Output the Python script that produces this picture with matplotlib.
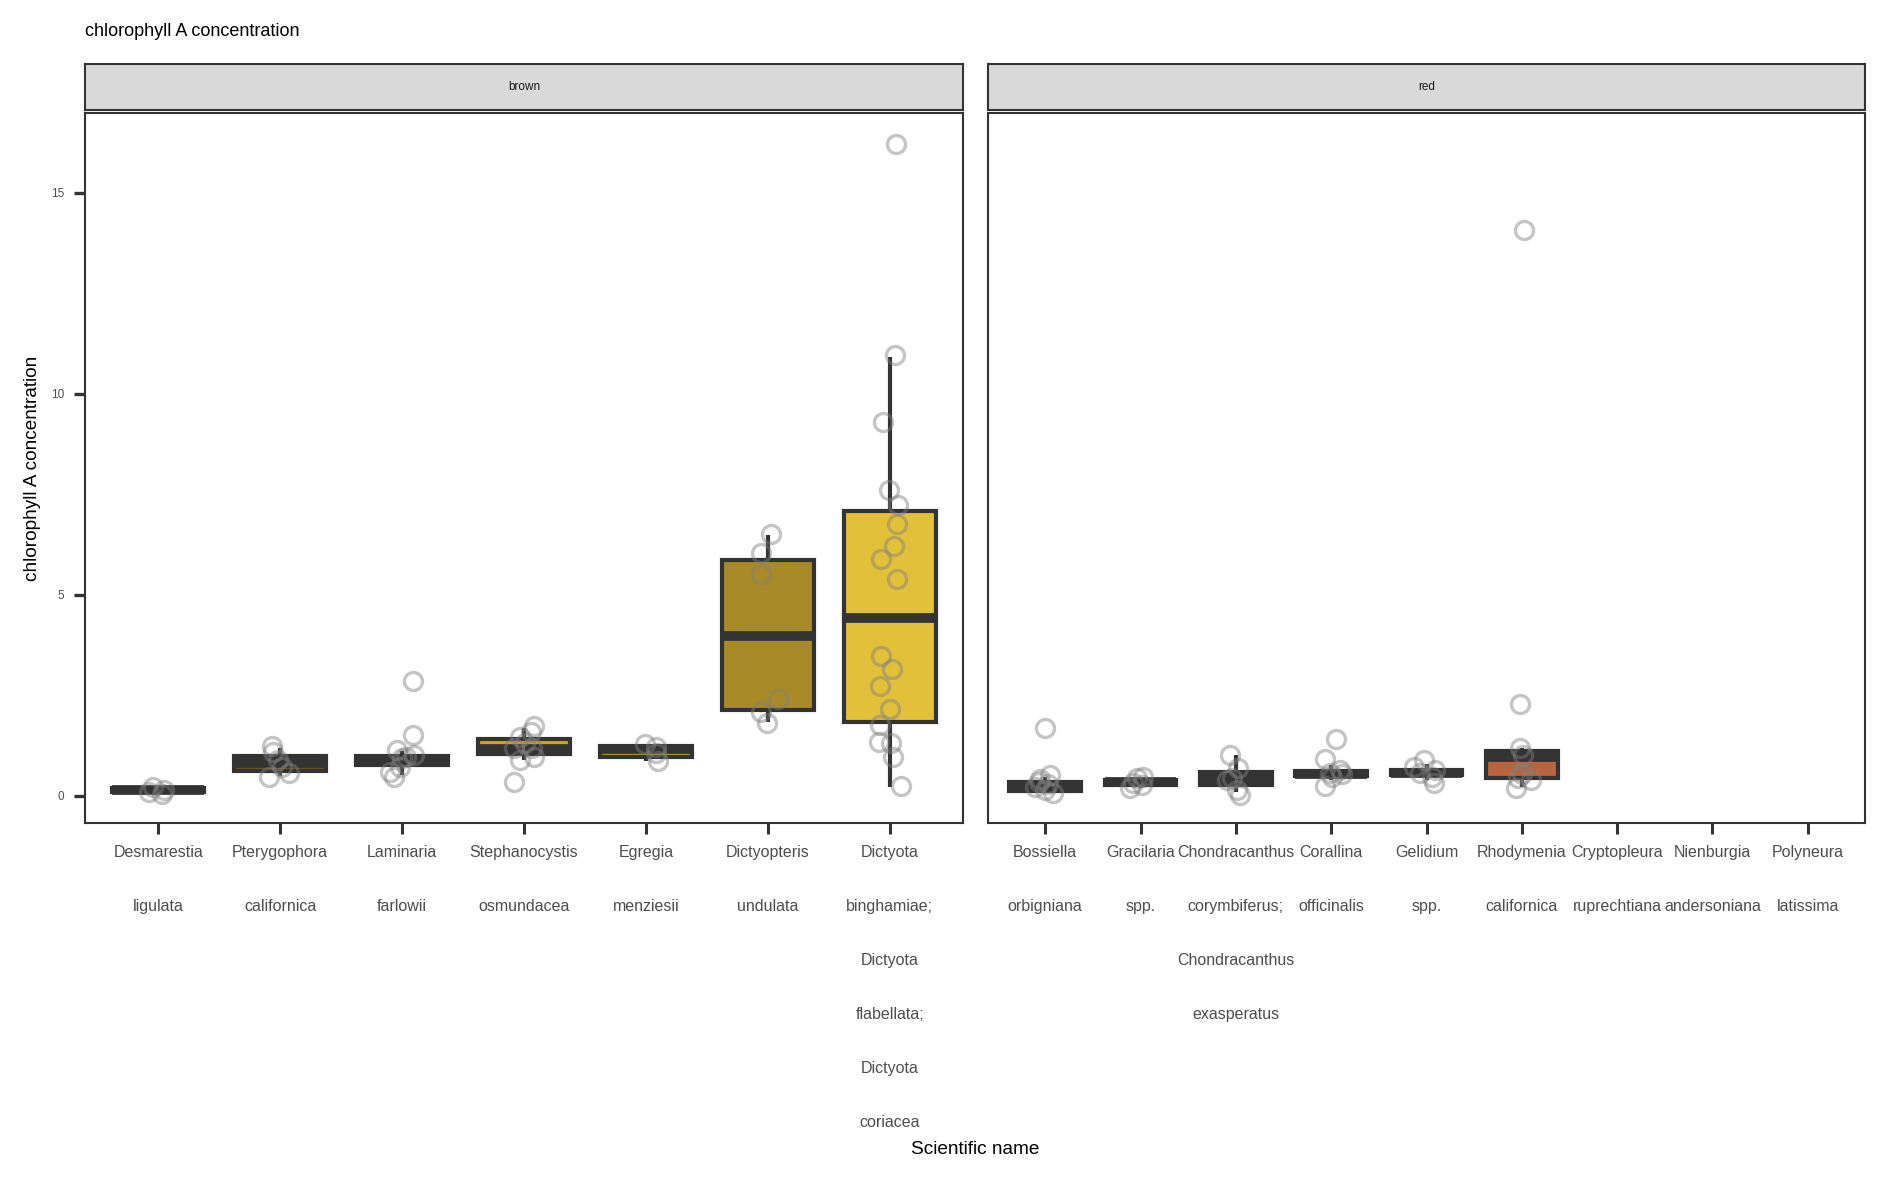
import matplotlib.pyplot as plt
import numpy as np

plt.rcParams['font.family'] = ['Liberation Sans', 'DejaVu Sans']

# ---- data ----
brown_labels = ['Desmarestia\nligulata', 'Pterygophora\ncalifornica', 'Laminaria\nfarlowii',
                'Stephanocystis\nosmundacea', 'Egregia\nmenziesii', 'Dictyopteris\nundulata',
                'Dictyota\nbinghamiae;\nDictyota\nflabellata;\nDictyota\ncoriacea']
red_labels = ['Bossiella\norbigniana', 'Gracilaria\nspp.',
              'Chondracanthus\ncorymbiferus;\nChondracanthus\nexasperatus',
              'Corallina\nofficinalis', 'Gelidium\nspp.', 'Rhodymenia\ncalifornica',
              'Cryptopleura\nruprechtiana', 'Nienburgia\nandersoniana', 'Polyneura\nlatissima']

# box stats: whisker low, q1, median, q3, whisker high (None = no data)
brown_whislo = [0.04, 0.49, 0.51, 0.89, 0.85, 1.82, 0.22]
brown_q1 = [0.09, 0.62, 0.77, 1.04, 0.95, 2.13, 1.84]
brown_med = [0.14, 0.80, 0.88, 1.17, 1.16, 3.96, 4.42]
brown_q3 = [0.19, 0.98, 0.99, 1.40, 1.24, 5.86, 7.09]
brown_whishi = [0.22, 1.19, 1.12, 1.69, 1.29, 6.49, 10.92]

red_whislo = [0.06, 0.18, 0.10, 0.39, 0.39, 0.22, None, None, None]
red_q1 = [0.12, 0.27, 0.27, 0.49, 0.51, 0.44, None, None, None]
red_med = [0.25, 0.33, 0.42, 0.55, 0.57, 0.95, None, None, None]
red_q3 = [0.34, 0.38, 0.59, 0.61, 0.63, 1.10, None, None, None]
red_whishi = [0.46, 0.47, 1.00, 0.76, 0.79, 1.18, None, None, None]

brown_fill = ['#3A3528', '#6E5516', '#3A3528', '#D0A52A', '#B8961E', '#A88A28', '#E3C03A']
red_fill = ['#333333', '#333333', '#333333', '#333333', '#333333', '#B8643E',
            '#333333', '#333333', '#333333']

# individual observations and their jitter offsets
brown_points = [
    [0.22, 0.14, 0.04, 0.10],
    [1.24, 1.09, 0.89, 0.47, 0.56, 0.72],
    [2.84, 1.51, 1.14, 1.01, 0.93, 0.60, 0.47, 0.72, 0.97],
    [1.73, 1.59, 1.47, 1.18, 1.18, 0.89, 0.97, 0.35, 1.30],
    [1.29, 1.22, 0.85, 1.06],
    [6.50, 6.03, 5.51, 2.41, 2.07, 1.80],
    [16.2, 10.95, 9.3, 7.60, 7.23, 6.75, 6.21, 5.89, 5.39, 3.47, 3.15, 2.73, 2.16,
     1.76, 1.34, 1.31, 0.96, 0.24],
]
brown_jitter = [
    [-0.04, 0.05, 0.035, -0.075],
    [-0.07, -0.055, -0.015, -0.095, 0.07, 0.015],
    [0.09, 0.09, -0.04, 0.095, 0.0, -0.095, -0.07, -0.015, 0.03],
    [0.08, 0.055, -0.03, -0.085, 0.065, -0.03, 0.08, -0.085, 0.01],
    [-0.01, 0.085, 0.1, 0.085],
    [0.025, -0.06, -0.06, 0.085, -0.06, -0.01],
    [0.05, 0.045, -0.055, -0.01, 0.07, 0.055, 0.035, -0.075, 0.06, -0.075, 0.015,
     -0.08, 0.0, -0.08, -0.09, 0.01, 0.03, 0.09],
]
red_points = [
    [1.68, 0.51, 0.35, 0.06, 0.14, 0.22, 0.30, 0.42],
    [0.18, 0.43, 0.47, 0.31, 0.26],
    [1.01, 0.68, 0.14, 0.02, 0.45, 0.39],
    [1.40, 0.91, 0.24, 0.65, 0.47, 0.57, 0.53],
    [0.89, 0.72, 0.65, 0.47, 0.31, 0.57],
    [14.07, 2.28, 1.18, 1.01, 0.55, 0.39, 0.18, 0.45],
    [], [], [],
]
red_jitter = [
    [0.0, 0.05, -0.07, 0.085, 0.0, -0.105, 0.03, -0.055],
    [-0.11, -0.04, 0.03, -0.075, 0.015],
    [-0.06, 0.025, 0.01, 0.045, -0.04, -0.095],
    [0.05, -0.07, -0.07, 0.095, 0.01, -0.01, 0.115],
    [-0.025, -0.13, 0.09, 0.055, 0.075, -0.065],
    [0.025, -0.02, -0.02, 0.015, 0.0, 0.1, -0.06, -0.045],
    [], [], [],
]

DARK = '#333333'
W, H = 1889, 1181
fig = plt.figure(figsize=(W / 100, H / 100), dpi=100)


def px_axes(x0, y0, x1, y1):
    return fig.add_axes([x0 / W, 1 - y1 / H, (x1 - x0) / W, (y1 - y0) / H])


def draw_panel(ax, labels, lo, q1, med, q3, hi, fills, points, jitter):
    pos = np.arange(1, len(labels) + 1)
    stats, spos, sfill = [], [], []
    for i in range(len(labels)):
        if med[i] is None:
            continue
        stats.append(dict(whislo=lo[i], q1=q1[i], med=med[i], q3=q3[i], whishi=hi[i], fliers=[]))
        spos.append(pos[i])
        sfill.append(fills[i])
    bp = ax.bxp(stats, positions=spos, widths=0.75, patch_artist=True, showcaps=False,
                showfliers=False,
                boxprops=dict(edgecolor=DARK, linewidth=3.0, joinstyle='miter'),
                whiskerprops=dict(color=DARK, linewidth=3.0, solid_capstyle='butt'),
                medianprops=dict(color=DARK, linewidth=7, solid_capstyle='butt'))
    for patch, c in zip(bp['boxes'], sfill):
        patch.set_facecolor(c)
    for i in range(len(labels)):
        if points[i]:
            ax.plot(pos[i] + np.array(jitter[i]), points[i], 'o', ms=13, mfc='none',
                    mec='grey', mew=2.4, alpha=0.45, zorder=5)
    ax.set_xlim(0.4, len(labels) + 0.6)
    ax.set_ylim(-0.68, 16.98)
    ax.set_xticks(pos)
    ax.set_xticklabels(labels)
    for lbl in ax.get_xticklabels():
        lbl.set_linespacing(4.24)
    ax.tick_params(axis='x', length=8, width=2.2, color=DARK, labelsize=11.5,
                   labelcolor='#4D4D4D', pad=8)
    for s in ax.spines.values():
        s.set_color(DARK)
        s.set_linewidth(1.5)


ax1 = px_axes(85, 113, 963, 823)
ax2 = px_axes(988, 113, 1865, 823)
draw_panel(ax1, brown_labels, brown_whislo, brown_q1, brown_med, brown_q3, brown_whishi,
           brown_fill, brown_points, brown_jitter)
draw_panel(ax2, red_labels, red_whislo, red_q1, red_med, red_q3, red_whishi,
           red_fill, red_points, red_jitter)

ax1.set_yticks([0, 5, 10, 15])
ax1.tick_params(axis='y', length=7.7, width=2.4, color=DARK, labelsize=8.5,
                labelcolor='#4D4D4D', pad=7)
ax2.tick_params(axis='y', left=False, labelleft=False)

# facet strips
for (x0, x1), name in [((85, 963), 'brown'), ((988, 1865), 'red')]:
    st = px_axes(x0, 64, x1, 110)
    st.set_facecolor('#D9D9D9')
    st.set_xticks([])
    st.set_yticks([])
    for s in st.spines.values():
        s.set_color(DARK)
        s.set_linewidth(1.5)
    st.text(0.5, 0.5, name, ha='center', va='center', fontsize=8.5, color='#1A1A1A',
            transform=st.transAxes)

fig.text(85 / W, 1 - 31 / H, 'chlorophyll A concentration', ha='left', va='center',
         fontsize=13, color='black')
fig.text(33 / W, 1 - 468 / H, 'chlorophyll A concentration', rotation=90, ha='center',
         va='center', fontsize=13.7, color='black')
fig.text(975 / W, 1 - 1149 / H, 'Scientific name', ha='center', va='center',
         fontsize=13.7, color='black')

fig.savefig('out.png', dpi=100, facecolor='white')
